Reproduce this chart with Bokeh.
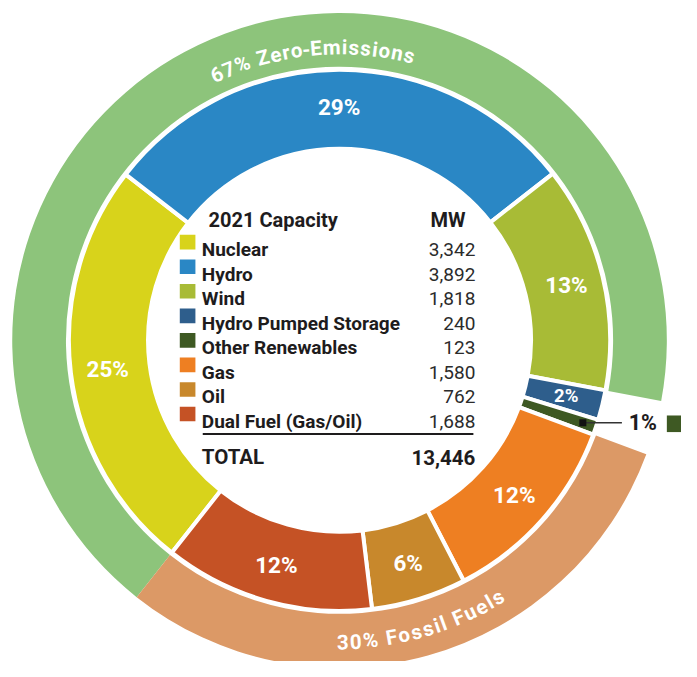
import math
from bokeh.plotting import figure
from bokeh.models import Range1d, ColumnDataSource
from bokeh.core.properties import value
from bokeh.embed import file_html
from bokeh.resources import INLINE

# ---------------- data ----------------
categories = ["Nuclear", "Hydro", "Wind", "Hydro Pumped Storage",
              "Other Renewables", "Gas", "Oil", "Dual Fuel (Gas/Oil)"]
capacity_mw = [3342, 3892, 1818, 240, 123, 1580, 762, 1688]
pct_labels = ["25%", "29%", "13%", "2%", "1%", "12%", "6%", "12%"]
seg_colors = ["#d8d31b", "#2a87c5", "#a8bb36", "#2e5e8c",
              "#3e5923", "#ee7f22", "#c8882c", "#c55225"]
zero_members = ["Nuclear", "Hydro", "Wind"]
fossil_members = ["Gas", "Oil", "Dual Fuel (Gas/Oil)"]
group_labels = ["67% Zero-Emissions", "30% Fossil Fuels"]
group_colors = ["#8dc47b", "#dc9966"]
legend_title = "2021 Capacity"
unit_title = "MW"
total_label = "TOTAL"
total_value = "13,446"

# ---------------- layout ----------------
W, H = 681, 661
RW, RH = 697, 677          # drawing coordinates span
S = W / RW                 # px per data unit
CX, CY = 347, -348
START_DEG = 231.7
R_IN0, R_IN1 = 196, 277
R_OUT0, R_OUT1 = 280, 335
FONT = "Roboto"
DARK = "#1e1c1d"


def fs(px):
    return value(f"{px * S:.2f}px")


p = figure(width=W, height=H, output_backend="svg", toolbar_location=None,
           x_range=Range1d(0, RW), y_range=Range1d(-RH, 0),
           min_border=0)
p.axis.visible = False
p.grid.visible = False
p.outline_line_color = None
p.background_fill_color = "white"
p.border_fill_color = "white"

total = sum(capacity_mw)
bounds = []
a = START_DEG
for v in capacity_mw:
    e = a - v / total * 360.0
    bounds.append((a, e))
    a = e

rad = math.radians

# inner ring
src = ColumnDataSource(dict(
    s=[rad(b[1]) for b in bounds], e=[rad(b[0]) for b in bounds],
    c=seg_colors))
p.annular_wedge(x=CX, y=CY, inner_radius=R_IN0, outer_radius=R_IN1,
                start_angle="s", end_angle="e", direction="anticlock",
                fill_color="c", line_color="white", line_width=4, source=src)

# outer ring
zi = [categories.index(m) for m in zero_members]
fi = [categories.index(m) for m in fossil_members]
zero_span = (bounds[max(zi)][1], bounds[min(zi)][0])
fossil_span = (bounds[max(fi)][1], bounds[min(fi)][0])
osrc = ColumnDataSource(dict(
    s=[rad(zero_span[0]), rad(fossil_span[0])],
    e=[rad(zero_span[1]), rad(fossil_span[1])],
    c=group_colors))
p.annular_wedge(x=CX, y=CY, inner_radius=R_OUT0, outer_radius=R_OUT1,
                start_angle="s", end_angle="e", direction="anticlock",
                fill_color="c", line_color=None, source=osrc)

# percent labels
lx, ly, lt, lsz = [], [], [], []
callout = None
for i, (b, lab) in enumerate(zip(bounds, pct_labels)):
    mid = (b[0] + b[1]) / 2
    frac = capacity_mw[i] / total
    if frac < 0.015:
        callout = (i, mid)
        continue
    r = 239
    lx.append(CX + r * math.cos(rad(mid)))
    ly.append(CY + r * math.sin(rad(mid)))
    lt.append(lab)
    lsz.append(f"{(19 if frac < 0.03 else 23) * S:.2f}px")
p.text(x=lx, y=ly, text=lt, text_font=value(FONT), text_font_style="bold",
       text_font_size=lsz, text_color="white", text_align="center",
       text_baseline="middle")

# callout for tiny slice
if callout is not None:
    i, mid = callout
    dx = CX + 263 * math.cos(rad(mid))
    dy = CY + 263 * math.sin(rad(mid))
    p.line(x=[dx, 636], y=[dy, dy], line_color="#333333", line_width=1.5)
    p.scatter(x=[dx], y=[dy], marker="square", size=7, fill_color="#111111",
              line_color=None)
    p.text(x=[643], y=[dy], text=[pct_labels[i]], text_font=value(FONT),
           text_font_style="bold", text_font_size=fs(22),
           text_color=DARK, text_align="left", text_baseline="middle")
    p.rect(x=[690], y=[dy - 1], width=16, height=17, fill_color=seg_colors[i],
           line_color=None)

# curved group labels
CW = {'0': .561, '1': .561, '2': .561, '3': .561, '4': .561, '5': .561,
      '6': .561, '7': .561, '8': .561, '9': .561, '%': .73, ' ': .25,
      'Z': .60, 'e': .53, 'r': .35, 'o': .56, '-': .27, 'E': .53, 'm': .87,
      'i': .25, 's': .515, 'n': .55, 'F': .52, 'l': .25, 'u': .55}


def arc_text(txt, center_deg, span_deg, radius, size, top):
    w = [CW.get(c, .55) * size for c in txt]
    centers, acc = [], 0.0
    for wi in w:
        centers.append(acc + wi / 2)
        acc += wi
    n = len(txt)
    nat = centers[-1] - centers[0]
    sp = (rad(span_deg) * radius - nat) / (n - 1)
    s = [c + k * sp for k, c in enumerate(centers)]
    midp = (s[0] + s[-1]) / 2
    xs, ys, ts, angs = [], [], [], []
    for ch, si in zip(txt, s):
        if ch == " ":
            continue
        d = math.degrees((si - midp) / radius)
        th = center_deg - d if top else center_deg + d
        rot = th - 90 if top else th + 90
        xs.append(CX + radius * math.cos(rad(th)))
        ys.append(CY + radius * math.sin(rad(th)))
        ts.append(ch)
        angs.append(rad(rot))
    p.text(x=xs, y=ys, text=ts, angle=angs, text_font=value(FONT),
           text_font_style="bold", text_font_size=fs(size),
           text_color="white", text_align="center",
           text_baseline="alphabetic")


arc_text(group_labels[0], 95.5, 38.5, 300, 21, True)
arc_text(group_labels[1], -73.9, 31.0, 309, 21, False)

# legend table
p.text(x=[213], y=[-225], text=[legend_title], text_font=value(FONT),
       text_font_style="bold", text_font_size=fs(20.5),
       text_color=DARK, text_align="left", text_baseline="alphabetic")
p.text(x=[476], y=[-225], text=[unit_title], text_font=value(FONT),
       text_font_style="bold", text_font_size=fs(20.5),
       text_color=DARK, text_align="right", text_baseline="alphabetic")

row0, step = 255, 25.15
rys = [-(row0 + k * step) for k in range(len(categories))]
p.rect(x=[191.5] * len(categories), y=[y + 7.5 for y in rys], width=16,
       height=15, fill_color=seg_colors, line_color=None)
p.text(x=[206] * len(categories), y=rys, text=categories,
       text_font=value(FONT), text_font_style="bold",
       text_font_size=fs(19.5), text_color=DARK, text_align="left",
       text_baseline="alphabetic")
p.text(x=[486] * len(categories), y=rys, text=[f"{v:,}" for v in capacity_mw],
       text_font=value(FONT), text_font_size=fs(19.5),
       text_color="#2b2b2b", text_align="right", text_baseline="alphabetic")
p.line(x=[207, 484], y=[-444, -444], line_color=DARK, line_width=2)
p.text(x=[206], y=[-468], text=[total_label], text_font=value(FONT),
       text_font_style="bold", text_font_size=fs(21), text_color=DARK,
       text_align="left", text_baseline="alphabetic")
p.text(x=[486], y=[-468], text=[total_value], text_font=value(FONT),
       text_font_style="bold", text_font_size=fs(21), text_color=DARK,
       text_align="right", text_baseline="alphabetic")

open("out.html", "w").write(file_html(p, INLINE))
